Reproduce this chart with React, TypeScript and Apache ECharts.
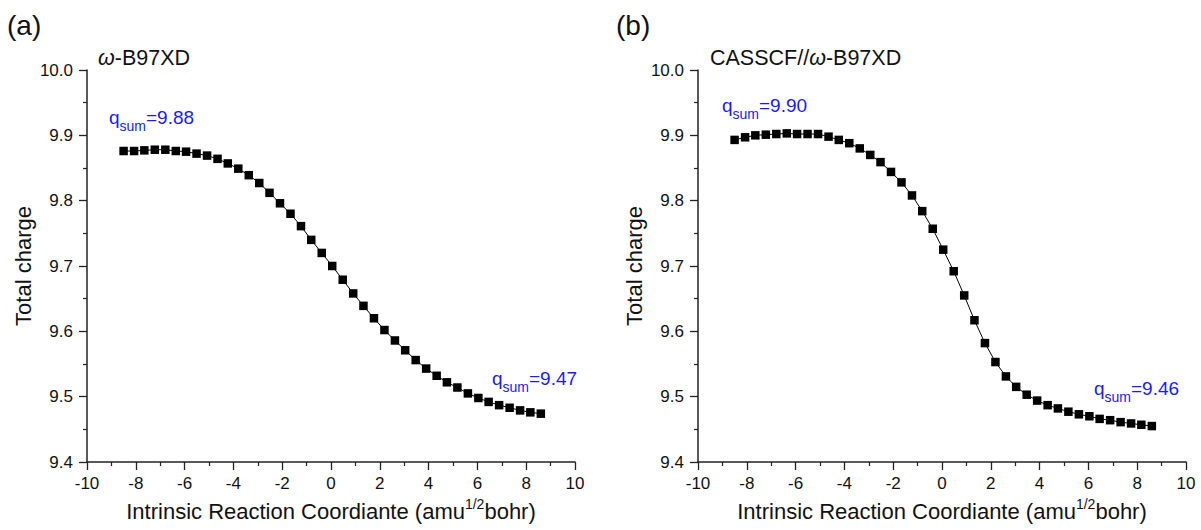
import React, { useEffect, useRef } from "react";
import * as echarts from "echarts";

const ircCoord = [
  -8.5, -8.07, -7.65, -7.22, -6.79, -6.36, -5.94, -5.51, -5.08, -4.65,
  -4.23, -3.8, -3.37, -2.94, -2.52, -2.09, -1.66, -1.23, -0.81, -0.38,
  0.05, 0.48, 0.91, 1.33, 1.76, 2.19, 2.62, 3.04, 3.47, 3.9,
  4.33, 4.75, 5.18, 5.61, 6.04, 6.46, 6.89, 7.32, 7.75, 8.17, 8.6,
];

const chargeWB97XD = [
  9.876, 9.876, 9.877, 9.878, 9.878, 9.876, 9.875, 9.872, 9.869, 9.864,
  9.857, 9.849, 9.839, 9.827, 9.812, 9.796, 9.78, 9.761, 9.74, 9.72,
  9.7, 9.679, 9.658, 9.639, 9.62, 9.602, 9.586, 9.571, 9.556, 9.543,
  9.532, 9.522, 9.514, 9.505, 9.498, 9.492, 9.487, 9.483, 9.479, 9.476, 9.474,
];

const chargeCASSCF = [
  9.893, 9.897, 9.9, 9.901, 9.902, 9.903, 9.902, 9.902, 9.902, 9.898,
  9.893, 9.888, 9.88, 9.87, 9.859, 9.844, 9.828, 9.808, 9.784, 9.757,
  9.725, 9.692, 9.655, 9.617, 9.582, 9.553, 9.531, 9.515, 9.503, 9.494,
  9.487, 9.482, 9.477, 9.473, 9.47, 9.466, 9.464, 9.461, 9.459, 9.457, 9.455,
];

const panelLabels = ["(a)", "(b)"];
const methodTitles = ["{i|ω}{t|-B97XD}", "{t|CASSCF//}{i|ω}{t|-B97XD}"];
const qsumStart = ["9.88", "9.90"];
const qsumEnd = ["9.47", "9.46"];
const yAxisName = "Total charge";
const xAxisName = "{m|Intrinsic Reaction Coordiante (amu}{sup|1/2}{m|bohr)}";

const FONT = "'Liberation Sans', Arial, Helvetica, sans-serif";
const BLUE = "#1a1aff";
const AX = "#222";
const TXT = "#111";

const qRich = {
  q: { fontSize: 19, lineHeight: 22, verticalAlign: "top", fill: BLUE, fontFamily: FONT },
  s: { fontSize: 14, lineHeight: 25, verticalAlign: "bottom", fill: BLUE, fontFamily: FONT },
};

function qText(v: string) {
  return "{q|q}{s|sum}{q|=" + v + "}";
}

export default function App() {
  const ref = useRef<HTMLDivElement>(null);
  useEffect(() => {
    if (!ref.current) return;
    const chart = echarts.init(ref.current, null, { renderer: "svg" });
    const grids = [
      { left: 87, top: 70, width: 488, height: 392 },
      { left: 698, top: 70, width: 488, height: 392 },
    ];
    const xAxes = grids.map((_, i) => ({
      gridIndex: i,
      type: "value",
      min: -10,
      max: 10,
      interval: 2,
      name: xAxisName,
      nameLocation: "middle",
      nameGap: 34,
      nameTextStyle: {
        rich: {
          m: { fontSize: 22, lineHeight: 26, verticalAlign: "bottom", color: TXT, fontFamily: FONT },
          sup: { fontSize: 14, lineHeight: 14, verticalAlign: "top", color: TXT, fontFamily: FONT },
        },
      },
      axisLine: { show: true, onZero: false, lineStyle: { color: AX, width: 1.5 } },
      axisTick: { show: true, inside: false, length: 8, lineStyle: { color: AX, width: 1.3 } },
      minorTick: { show: true, splitNumber: 2, length: 4, lineStyle: { color: AX, width: 1.2 } },
      axisLabel: { fontSize: 17, color: TXT, fontFamily: FONT, margin: 13 },
      splitLine: { show: false },
    }));
    const yAxes = grids.map((_, i) => ({
      gridIndex: i,
      type: "value",
      min: 9.4,
      max: 10.0,
      interval: 0.1,
      name: yAxisName,
      nameLocation: "middle",
      nameGap: 53,
      nameTextStyle: { fontSize: 22, color: TXT, fontFamily: FONT },
      axisLine: { show: true, onZero: false, lineStyle: { color: AX, width: 1.5 } },
      axisTick: { show: true, inside: false, length: 8, lineStyle: { color: AX, width: 1.3 } },
      minorTick: { show: true, splitNumber: 2, length: 4, lineStyle: { color: AX, width: 1.2 } },
      axisLabel: {
        fontSize: 17,
        color: TXT,
        fontFamily: FONT,
        margin: 14,
        formatter: (v: number) => v.toFixed(1),
      },
      splitLine: { show: false },
    }));
    const mk = (data: number[], i: number) => ({
      type: "line",
      xAxisIndex: i,
      yAxisIndex: i,
      data: ircCoord.map((x, k) => [x, data[k]]),
      symbol: "rect",
      symbolSize: 8.5,
      showAllSymbol: true,
      lineStyle: { color: "#000", width: 1 },
      itemStyle: { color: "#000", borderColor: "#000", borderWidth: 0 },
    });
    const textEl = (x: number, y: number, text: string, rich: any, extra: any = {}) => ({
      type: "text",
      x,
      y,
      style: { text, rich, verticalAlign: "middle", align: "left", fontFamily: FONT, ...extra },
    });
    const titleRich = {
      t: { fontSize: 21.5, fill: TXT, fontFamily: FONT },
      i: { fontSize: 21.5, fill: TXT, fontStyle: "italic", fontFamily: FONT },
    };
    chart.setOption({
      animation: false,
      backgroundColor: "#fff",
      grid: grids,
      xAxis: xAxes,
      yAxis: yAxes,
      series: [mk(chargeWB97XD, 0), mk(chargeCASSCF, 1)],
      graphic: [
        { type: "text", x: 7, y: 25, style: { text: panelLabels[0], fontSize: 28, fill: TXT, fontFamily: FONT, verticalAlign: "middle" } },
        { type: "text", x: 616, y: 25, style: { text: panelLabels[1], fontSize: 28, fill: TXT, fontFamily: FONT, verticalAlign: "middle" } },
        textEl(98, 58, methodTitles[0], titleRich),
        textEl(710, 58, methodTitles[1], titleRich),
        textEl(109, 120.5, qText(qsumStart[0]), qRich),
        textEl(492, 381.5, qText(qsumEnd[0]), qRich),
        textEl(722, 108.5, qText(qsumStart[1]), qRich),
        textEl(1094, 391.5, qText(qsumEnd[1]), qRich),
      ],
    });
    return () => chart.dispose();
  }, []);
  return (
    <div
      ref={ref}
      style={{ position: "fixed", left: 0, top: 0, width: 1201, height: 530, background: "#fff" }}
    />
  );
}
